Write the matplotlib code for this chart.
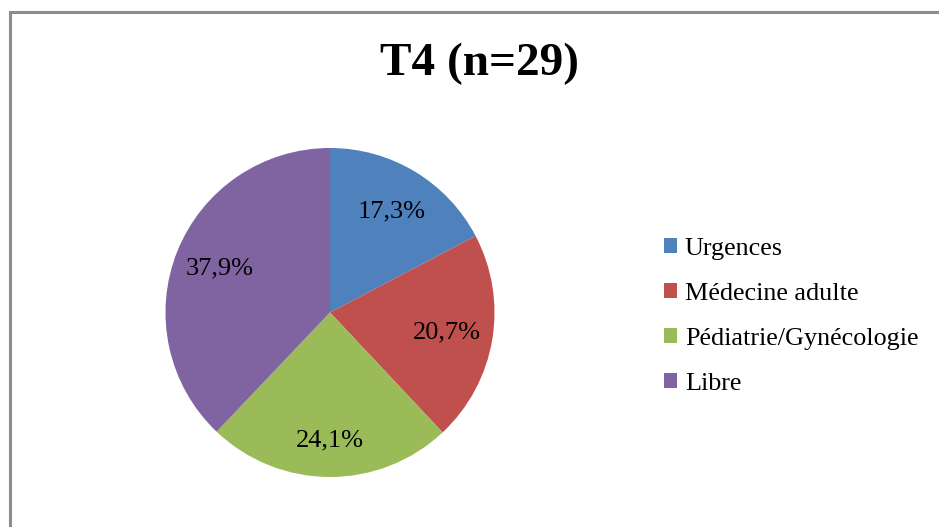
import matplotlib.pyplot as plt
from matplotlib.patches import Rectangle

categories = ['Urgences', 'Médecine adulte', 'Pédiatrie/Gynécologie', 'Libre']
values = [17.3, 20.7, 24.1, 37.9]
colors = ['#4F81BD', '#C0504D', '#9BBB59', '#8064A2']
title = 'T4 (n=29)'

plt.rcParams['font.family'] = ['Liberation Serif', 'DejaVu Serif']

W, H = 939, 527
fig = plt.figure(figsize=(W / 100, H / 100), dpi=100)

# grey chart border (right/bottom edges fall outside the picture)
fig.patches.append(Rectangle((9.5 / W, -0.1), 1.2, 1 - 11.5 / H + 0.1,
                             transform=fig.transFigure, fill=False,
                             edgecolor='#8c8c8c', linewidth=2.2))

cx, cy, r = 330, 312.5, 164.5
ax = fig.add_axes([(cx - r) / W, (H - cy - r) / H, 2 * r / W, 2 * r / H])

wedges, texts, autotexts = ax.pie(
    values, colors=colors, startangle=90, counterclock=False,
    autopct=lambda p: f'{p:.1f}%'.replace('.', ','), pctdistance=0.72,
    textprops={'fontsize': 19, 'color': 'black'},
    wedgeprops={'linewidth': 0})
# Excel nudges the green label a bit further out
x, y = autotexts[2].get_position()
autotexts[2].set_position((x * 0.78 / 0.72, y * 0.78 / 0.72))
ax.set_aspect('auto')
ax.set_xlim(-1, 1)
ax.set_ylim(-1, 1)

fig.text(479 / W, 1 - 64 / H, title, ha='center', va='center',
         fontsize=34, fontweight='bold')

leg = fig.legend(wedges, categories, loc='center left',
                 bbox_to_anchor=(664 / W, 1 - 316.5 / H),
                 frameon=False, fontsize=18.8, handlelength=0.5,
                 handleheight=0.5, handletextpad=0.3, labelspacing=0.88,
                 borderpad=0, borderaxespad=0)

fig.savefig('out.png', dpi=100, facecolor='white')
